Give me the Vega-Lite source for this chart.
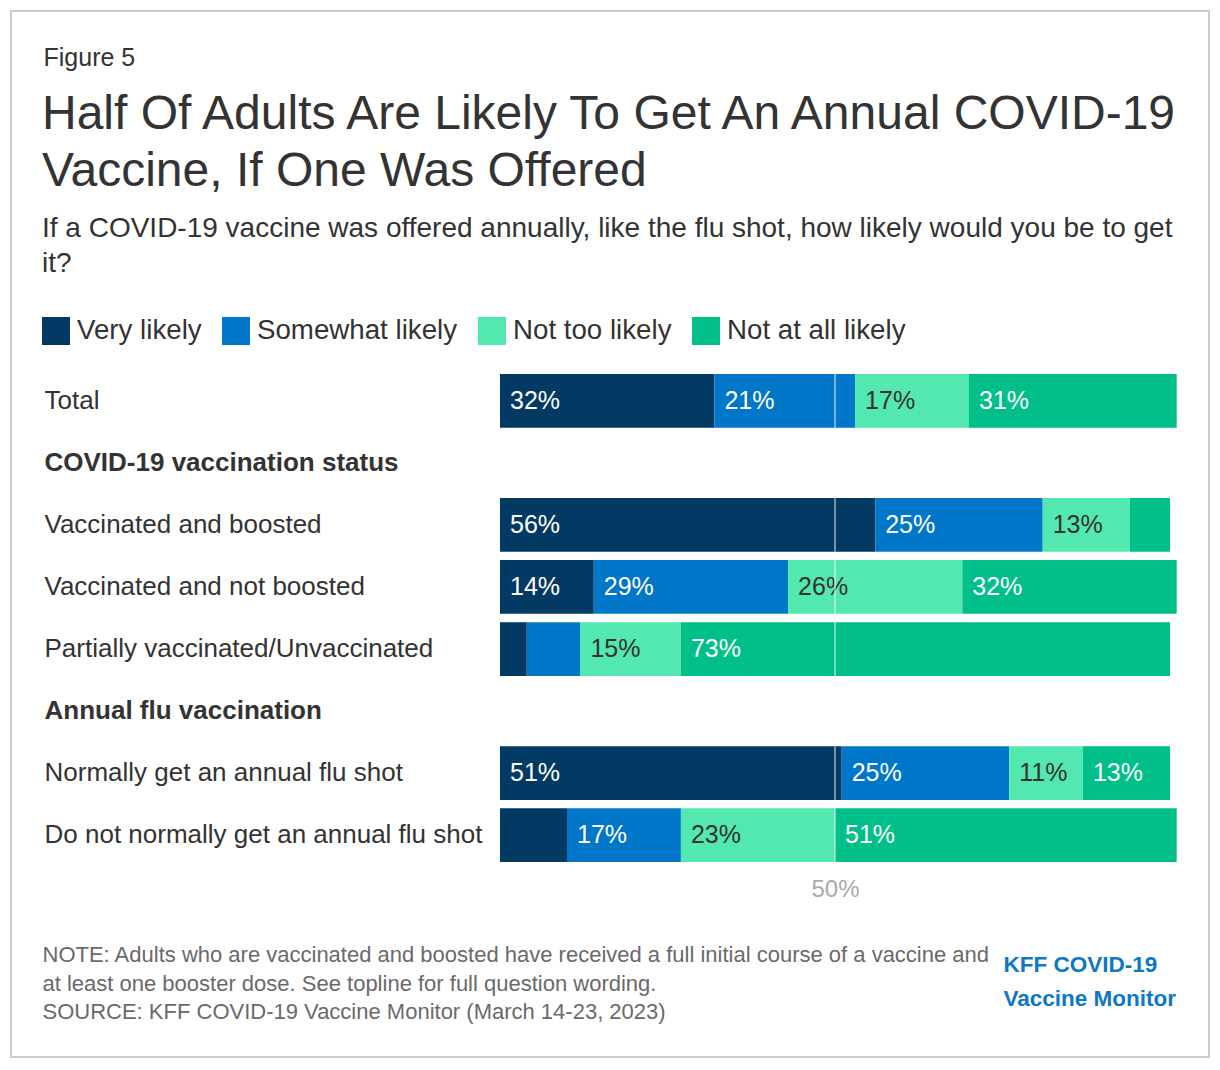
{
  "$schema": "https://vega.github.io/schema/vega-lite/v6.json",
  "width": 1198,
  "height": 1046,
  "autosize": "none",
  "padding": {"left": 11, "top": 11, "right": 11, "bottom": 13},
  "background": "white",
  "config": {
    "font": "Liberation Sans",
    "view": {"stroke": "#cccccc", "strokeWidth": 2}
  },
  "title": {
    "text": ["Half Of Adults Are Likely To Get An Annual COVID-19", "Vaccine, If One Was Offered"],
    "subtitle": ["If a COVID-19 vaccine was offered annually, like the flu shot, how likely would you be to get", "it?"],
    "anchor": "start",
    "frame": "group",
    "offset": -267,
    "dx": 31,
    "font": "Liberation Sans",
    "fontSize": 48,
    "lineHeight": 57,
    "fontWeight": "normal",
    "color": "#333333",
    "subtitleFont": "Liberation Sans",
    "subtitleFontSize": 28,
    "subtitleLineHeight": 35,
    "subtitleColor": "#333333",
    "subtitlePadding": 19
  },
  "data": {
    "values": [
      {"row": "Total", "cat": "Very likely", "value": 0.32},
      {"row": "Total", "cat": "Somewhat likely", "value": 0.21},
      {"row": "Total", "cat": "Not too likely", "value": 0.17},
      {"row": "Total", "cat": "Not at all likely", "value": 0.31},
      {"row": "Vaccinated and boosted", "cat": "Very likely", "value": 0.56},
      {"row": "Vaccinated and boosted", "cat": "Somewhat likely", "value": 0.25},
      {"row": "Vaccinated and boosted", "cat": "Not too likely", "value": 0.13},
      {"row": "Vaccinated and boosted", "cat": "Not at all likely", "value": 0.06},
      {"row": "Vaccinated and not boosted", "cat": "Very likely", "value": 0.14},
      {"row": "Vaccinated and not boosted", "cat": "Somewhat likely", "value": 0.29},
      {"row": "Vaccinated and not boosted", "cat": "Not too likely", "value": 0.26},
      {"row": "Vaccinated and not boosted", "cat": "Not at all likely", "value": 0.32},
      {"row": "Partially vaccinated/Unvaccinated", "cat": "Very likely", "value": 0.04},
      {"row": "Partially vaccinated/Unvaccinated", "cat": "Somewhat likely", "value": 0.08},
      {"row": "Partially vaccinated/Unvaccinated", "cat": "Not too likely", "value": 0.15},
      {"row": "Partially vaccinated/Unvaccinated", "cat": "Not at all likely", "value": 0.73},
      {"row": "Normally get an annual flu shot", "cat": "Very likely", "value": 0.51},
      {"row": "Normally get an annual flu shot", "cat": "Somewhat likely", "value": 0.25},
      {"row": "Normally get an annual flu shot", "cat": "Not too likely", "value": 0.11},
      {"row": "Normally get an annual flu shot", "cat": "Not at all likely", "value": 0.13},
      {"row": "Do not normally get an annual flu shot", "cat": "Very likely", "value": 0.10},
      {"row": "Do not normally get an annual flu shot", "cat": "Somewhat likely", "value": 0.17},
      {"row": "Do not normally get an annual flu shot", "cat": "Not too likely", "value": 0.23},
      {"row": "Do not normally get an annual flu shot", "cat": "Not at all likely", "value": 0.51}
    ]
  },
  "transform": [
    {"stack": "value", "groupby": ["row"], "sort": [{"field": "cat", "order": "descending"}], "as": ["x0", "x1"]}
  ],
  "layer": [
    {
      "mark": {"type": "bar"},
      "encoding": {
        "y": {
          "field": "row",
          "type": "nominal",
          "scale": {
            "domain": ["Total", "COVID-19 vaccination status", "Vaccinated and boosted", "Vaccinated and not boosted", "Partially vaccinated/Unvaccinated", "Annual flu vaccination", "Normally get an annual flu shot", "Do not normally get an annual flu shot"],
            "range": [363, 851],
            "paddingInner": 0.134,
            "paddingOuter": 0
          },
          "axis": {
            "orient": "left",
            "domain": false,
            "ticks": false,
            "tickSize": 0,
            "grid": false,
            "labelAlign": "left",
            "labelBaseline": "middle",
            "labelPadding": -33,
            "labelFontSize": 26,
            "labelColor": "#333333",
            "labelLimit": 500,
            "labelFontWeight": {"condition": {"test": "datum.value === 'COVID-19 vaccination status' || datum.value === 'Annual flu vaccination'", "value": "bold"}, "value": "normal"},
            "title": "Figure 5",
            "titleAngle": 0,
            "titleX": 32,
            "titleY": 54,
            "titleAlign": "left",
            "titleBaseline": "alphabetic",
            "titleFontSize": 25,
            "titleFontWeight": "normal",
            "titleColor": "#333333"
          }
        },
        "x": {
          "field": "x0",
          "type": "quantitative",
          "scale": {"domain": [0, 1], "range": [489, 1159], "nice": false, "zero": false},
          "axis": {
            "orient": "bottom",
            "offset": -191,
            "values": [0.5],
            "format": ".0%",
            "domain": false,
            "ticks": false,
            "tickSize": 0,
            "grid": false,
            "labelPadding": 11,
            "labelFontSize": 24,
            "labelColor": "#aaaaaa",
            "title": ["NOTE: Adults who are vaccinated and boosted have received a full initial course of a vaccine and", "at least one booster dose. See topline for full question wording.", "SOURCE: KFF COVID-19 Vaccine Monitor (March 14-23, 2023)"],
            "titleX": 31,
            "titleY": 78.5,
            "titleAlign": "left",
            "titleBaseline": "top",
            "titleFontSize": 22,
            "titleFontWeight": "normal",
            "titleLineHeight": 28.5,
            "titleColor": "#6a6a6a",
            "titleLimit": 1200
          }
        },
        "x2": {"field": "x1"},
        "color": {
          "field": "cat",
          "type": "nominal",
          "sort": ["Very likely", "Somewhat likely", "Not too likely", "Not at all likely"],
          "scale": {
            "domain": ["Very likely", "Somewhat likely", "Not too likely", "Not at all likely"],
            "range": ["#023a63", "#0077c8", "#52e8b0", "#00bf89"]
          },
          "legend": {
            "orient": "none",
            "legendX": 31,
            "legendY": 306,
            "direction": "horizontal",
            "title": null,
            "symbolType": "square",
            "symbolSize": 784,
            "symbolStrokeWidth": 0,
            "symbolOpacity": 1,
            "labelFontSize": 27.7,
            "labelColor": "#333333",
            "labelOffset": 7,
            "columnPadding": 20,
            "labelLimit": 400
          }
        }
      }
    },
    {
      "transform": [{"filter": "datum.value >= 0.105"}],
      "mark": {"type": "text", "align": "left", "baseline": "middle", "dx": 10, "fontSize": 25},
      "encoding": {
        "y": {
          "field": "row",
          "type": "nominal",
          "axis": {
            "orient": "right",
            "domain": false,
            "ticks": false,
            "labels": false,
            "grid": false,
            "title": ["KFF COVID-19", "Vaccine Monitor"],
            "titleAngle": 0,
            "titleX": -206,
            "titleY": 942,
            "titleAlign": "left",
            "titleBaseline": "top",
            "titleFontSize": 22.5,
            "titleFontWeight": "bold",
            "titleLineHeight": 34,
            "titleColor": "#0d78c6"
          }
        },
        "x": {"field": "x0", "type": "quantitative"},
        "text": {"field": "value", "type": "quantitative", "format": ".0%"},
        "color": {"condition": {"test": "datum.cat === 'Not too likely'", "value": "#333333"}, "value": "#ffffff"}
      }
    },
    {
      "transform": [{"filter": "datum.cat === 'Very likely'"}],
      "mark": {"type": "rect", "color": "#ffffff", "opacity": 0.45},
      "encoding": {
        "y": {"field": "row", "type": "nominal", "axis": null},
        "x": {"datum": 0.4985, "type": "quantitative"},
        "x2": {"datum": 0.5015}
      }
    }
  ],
  "resolve": {"axis": {"y": "independent"}}
}
